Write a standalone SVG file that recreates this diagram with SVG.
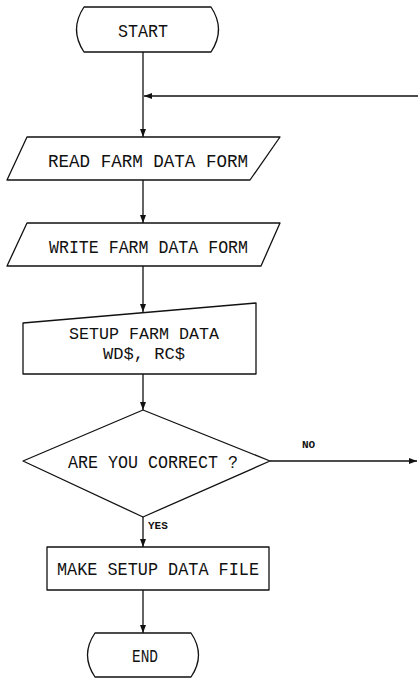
<svg xmlns="http://www.w3.org/2000/svg" width="418" height="679" viewBox="0 0 418 679">
<style>
.shape{fill:none;stroke:#111;stroke-width:1.3;stroke-linejoin:round}
.conn{fill:none;stroke:#111;stroke-width:1.3}
.t{font-family:"Liberation Mono","DejaVu Sans Mono",monospace;font-size:18px;fill:#111}
.t2{font-size:17px}
.s{font-family:"Liberation Mono","DejaVu Sans Mono",monospace;font-size:11px;font-weight:bold;fill:#111}
</style>
<defs>
<marker id="ah" markerWidth="8" markerHeight="6" refX="8" refY="3" orient="auto" markerUnits="userSpaceOnUse">
<path d="M0,0 L8,3 L0,6 Z" fill="#111"/>
</marker>
</defs>
<rect width="418" height="679" fill="#fff"/>
<g id="connectors">
<line class="conn" x1="143" y1="52" x2="143" y2="137" marker-end="url(#ah)"/>
<line class="conn" x1="418" y1="96" x2="144" y2="96" marker-end="url(#ah)"/>
<line class="conn" x1="143" y1="180" x2="143" y2="223" marker-end="url(#ah)"/>
<line class="conn" x1="143" y1="266" x2="143" y2="312" marker-end="url(#ah)"/>
<line class="conn" x1="143" y1="374" x2="143" y2="410" marker-end="url(#ah)"/>
<line class="conn" x1="270" y1="461" x2="417" y2="461" marker-end="url(#ah)"/>
<line class="conn" x1="143" y1="517" x2="143" y2="547" marker-end="url(#ah)"/>
<line class="conn" x1="143" y1="590" x2="143" y2="633" marker-end="url(#ah)"/>
<text class="s" x="302" y="448">NO</text>
<text class="s" x="148" y="529">YES</text>
</g>
<g id="start">
<path class="shape" d="M84,7 H211 Q226,29.5 211,52 H84 Q69,29.5 84,7 Z"/>
<text class="t" x="118" y="37" textLength="50" lengthAdjust="spacingAndGlyphs">START</text>
</g>
<g id="read">
<path class="shape" d="M27,137 H280 L250,180 H7 Z"/>
<text class="t" x="48" y="167" textLength="200" lengthAdjust="spacingAndGlyphs">READ FARM DATA FORM</text>
</g>
<g id="write">
<path class="shape" d="M27,223 H280 L261,266 H7 Z"/>
<text class="t" x="49" y="253" textLength="199" lengthAdjust="spacingAndGlyphs">WRITE FARM DATA FORM</text>
</g>
<g id="setup">
<path class="shape" d="M23,323 L256,303 V374 H23 Z"/>
<text class="t t2" x="69" y="339" textLength="150" lengthAdjust="spacingAndGlyphs">SETUP FARM DATA</text>
<text class="t t2" x="103" y="359" textLength="82" lengthAdjust="spacingAndGlyphs">WD$, RC$</text>
</g>
<g id="decision">
<path class="shape" d="M143,410 L270,461 L143,517 L23,461 Z"/>
<text class="t" x="68" y="468" textLength="170" lengthAdjust="spacingAndGlyphs">ARE YOU CORRECT ?</text>
</g>
<g id="make">
<rect class="shape" x="47" y="547" width="222" height="43"/>
<text class="t" x="57" y="575" textLength="202" lengthAdjust="spacingAndGlyphs">MAKE SETUP DATA FILE</text>
</g>
<g id="end">
<path class="shape" d="M95,633 H191 Q206,655 191,677 H95 Q80,655 95,633 Z"/>
<text class="t" x="132" y="662" textLength="26" lengthAdjust="spacingAndGlyphs">END</text>
</g>
</svg>
